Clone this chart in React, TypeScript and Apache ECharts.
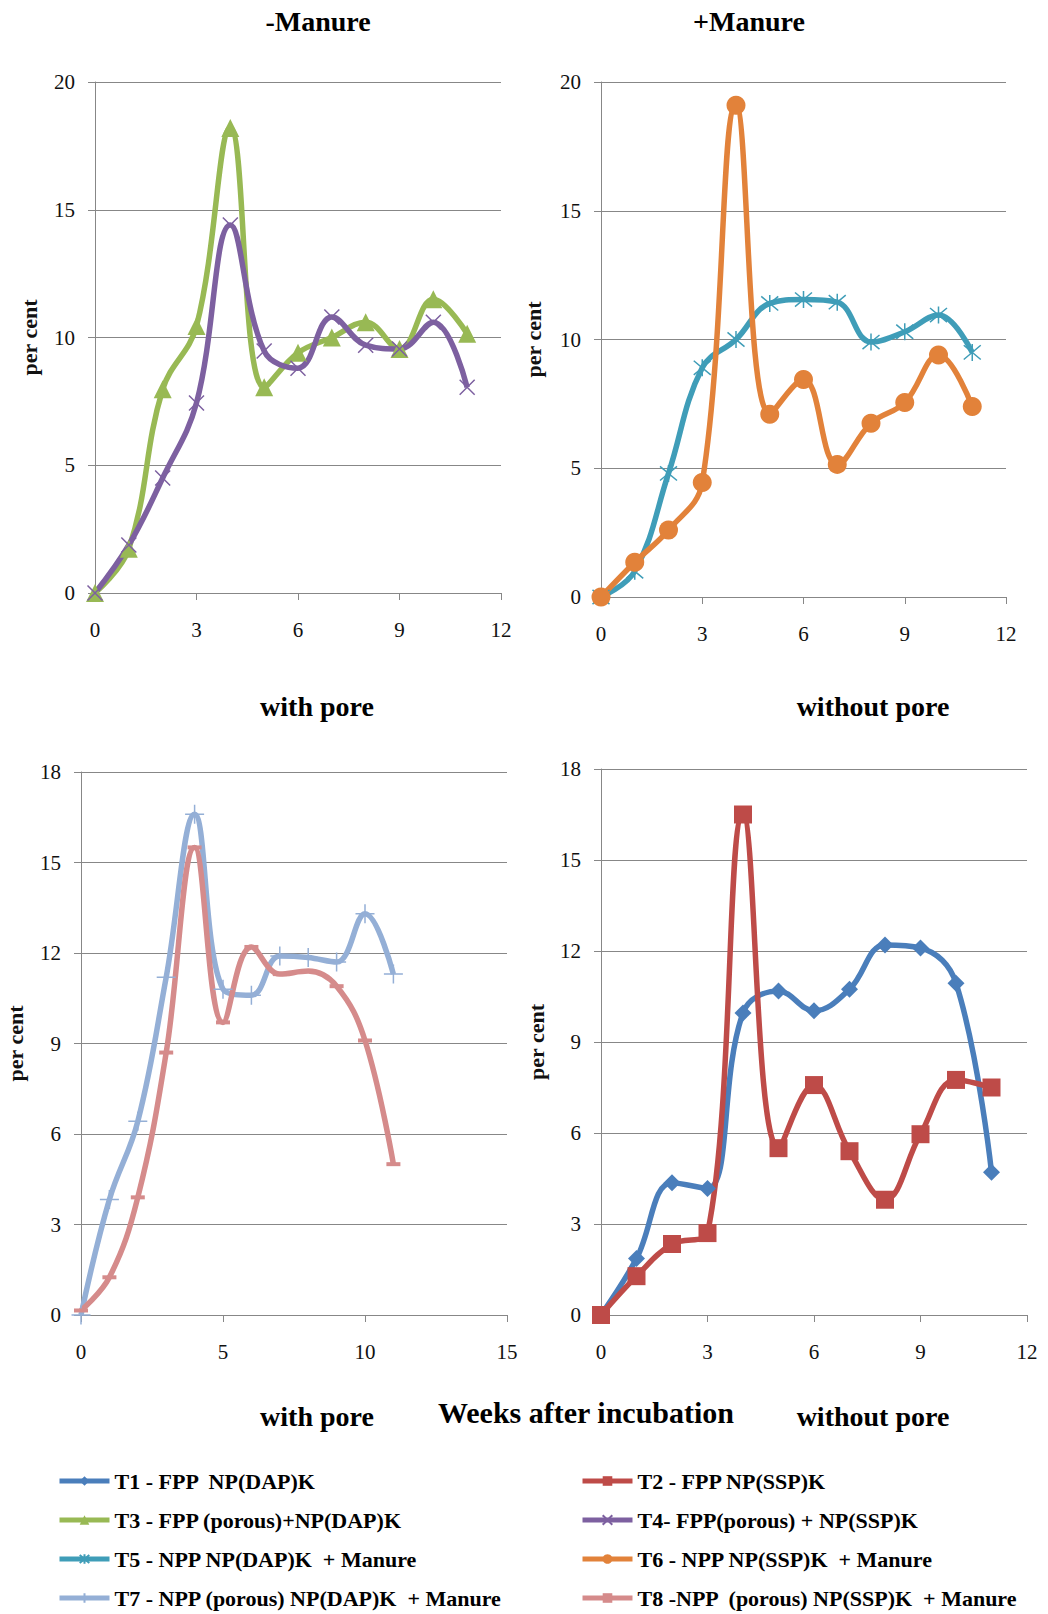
import * as echarts from 'echarts';
import { useEffect, useRef } from 'react';

// weeks after incubation
const weeks = [0, 1, 2, 3, 4, 5, 6, 7, 8, 9, 10, 11];

// -Manure panel
const t3 = [0, 1.73, 7.97, 10.45, 18.2, 8.05, 9.4, 10.0, 10.6, 9.55, 11.5, 10.15];
const t4 = [0, 1.88, 4.5, 7.44, 14.4, 9.47, 8.8, 10.8, 9.7, 9.55, 10.6, 8.05];
// +Manure panel
const t5 = [0, 1.0, 4.8, 8.9, 10.0, 11.4, 11.55, 11.45, 9.9, 10.3, 10.95, 9.5];
const t6 = [0, 1.35, 2.6, 4.45, 19.1, 7.1, 8.45, 5.15, 6.75, 7.55, 9.4, 7.4];
// with pore panel
const t7 = [0, 3.83, 6.42, 11.2, 16.6, 10.8, 10.6, 11.9, 11.85, 11.7, 13.3, 11.3];
const t8 = [0.15, 1.25, 3.9, 8.7, 15.5, 9.7, 12.2, 11.3, 11.4, 10.9, 9.1, 5.0];
// without pore panel
const t1 = [0, 1.86, 4.36, 4.17, 9.96, 10.68, 10.03, 10.74, 12.2, 12.1, 10.94, 4.71];
const t2 = [0, 1.28, 2.34, 2.7, 16.5, 5.5, 7.58, 5.4, 3.8, 5.96, 7.75, 7.5];

const names = [
    'T1 - FPP  NP(DAP)K',
    'T2 - FPP NP(SSP)K',
    'T3 - FPP (porous)+NP(DAP)K',
    'T4- FPP(porous) + NP(SSP)K',
    'T5 - NPP NP(DAP)K  + Manure',
    'T6 - NPP NP(SSP)K  + Manure',
    'T7 - NPP (porous) NP(DAP)K  + Manure',
    'T8 -NPP  (porous) NP(SSP)K  + Manure',
];

const serif = '"Liberation Serif", "Times New Roman", serif';
const gridColor = '#878787';

const pairs = (ys: number[]) => weeks.map((w, i) => [w, ys[i]]);

const App = () => {
    const chartRef = useRef(null);

    useEffect(() => {
        document.body.style.margin = '0';
        const chart = echarts.init(chartRef.current, null, { renderer: 'svg' });

        const grids = [
            { left: 95, top: 82, width: 406, height: 511 },
            { left: 601, top: 82, width: 405, height: 515 },
            { left: 81, top: 772, width: 426, height: 543 },
            { left: 601, top: 769, width: 426, height: 546 },
        ];

        const xAxisOf = (i: number, max: number, interval: number) => ({
            type: 'value',
            gridIndex: i,
            min: 0,
            max,
            interval,
            axisLine: { show: true, lineStyle: { color: gridColor } },
            axisTick: { show: true, length: 7, lineStyle: { color: gridColor } },
            splitLine: { show: false },
            axisLabel: { color: '#111', fontFamily: serif, fontSize: 21, margin: 26 },
        });

        const yAxisOf = (i: number, max: number, interval: number, gap: number) => ({
            type: 'value',
            gridIndex: i,
            min: 0,
            max,
            interval,
            name: 'per cent',
            nameLocation: 'middle',
            nameGap: gap,
            nameTextStyle: { color: '#111', fontFamily: serif, fontWeight: 'bold', fontSize: 22 },
            axisLine: { show: true, lineStyle: { color: gridColor } },
            axisTick: { show: true, length: 7, lineStyle: { color: gridColor } },
            splitLine: { show: true, lineStyle: { color: gridColor, width: 1 } },
            axisLabel: { color: '#111', fontFamily: serif, fontSize: 21, margin: 20 },
        });

        const line = (name: string, ys: number[], idx: number, color: string, symbol: string, size: any, stroke = 0) => ({
            name,
            type: 'line',
            xAxisIndex: idx,
            yAxisIndex: idx,
            data: pairs(ys),
            smooth: 0.4,
            symbol,
            symbolSize: size,
            showAllSymbol: true,
            lineStyle: { color, width: 5.5 },
            itemStyle: stroke ? { color, borderColor: color, borderWidth: stroke } : { color },
        });

        const cross = 'path://M0 0 L10 10 M10 0 L0 10';
        const star = 'path://M0 0 L10 10 M10 0 L0 10 M5 -1 L5 11';
        const plus = 'path://M5 0 L5 10 M0 5 L10 5';

        const title = (text: string, x: number, y: number, size = 28) => ({
            type: 'text',
            x,
            y,
            style: {
                text,
                font: `bold ${size}px ${serif}`,
                fill: '#000',
                textAlign: 'center',
                textVerticalAlign: 'middle',
                align: 'center',
                verticalAlign: 'middle',
            },
        });

        const legendBase = {
            orient: 'vertical',
            itemWidth: 50,
            itemHeight: 12,
            itemGap: 17,
            lineStyle: { width: 5 },
            textStyle: { color: '#000', fontFamily: serif, fontWeight: 'bold', fontSize: 22 },
        };

        const option = {
            animation: false,
            backgroundColor: '#fff',
            grid: grids,
            xAxis: [xAxisOf(0, 12, 3), xAxisOf(1, 12, 3), xAxisOf(2, 15, 5), xAxisOf(3, 12, 3)],
            yAxis: [yAxisOf(0, 20, 5, 55), yAxisOf(1, 20, 5, 57), yAxisOf(2, 18, 3, 55), yAxisOf(3, 18, 3, 54)],
            legend: [
                { ...legendBase, left: 52, top: 1465, data: [names[0], names[2], names[4], names[6]] },
                { ...legendBase, left: 575, top: 1465, data: [names[1], names[3], names[5], names[7]] },
            ],
            graphic: [
                title('-Manure', 318, 21),
                title('+Manure', 749, 21),
                title('with pore', 317, 706),
                title('without pore', 873, 706),
                title('with pore', 317, 1416),
                title('Weeks after incubation', 586, 1412, 30),
                title('without pore', 873, 1416),
            ],
            series: [
                line(names[2], t3, 0, '#98B954', 'triangle', 18),
                line(names[3], t4, 0, '#7D60A0', cross, 15, 1.5),
                line(names[4], t5, 1, '#3F9DB8', star, 17, 1.5),
                line(names[5], t6, 1, '#E2823A', 'circle', 19),
                line(names[6], t7, 2, '#94AFD6', plus, 19, 1.5),
                line(names[7], t8, 2, '#D58B8B', 'rect', [14, 4]),
                line(names[0], t1, 3, '#4A7EBB', 'diamond', 17),
                line(names[1], t2, 3, '#BE4B48', 'rect', 18),
            ],
        };

        chart.setOption(option);

        return () => {
            chart.dispose();
        };
    }, []);

    return <div ref={chartRef} style={{ width: '1048px', height: '1614px' }} />;
};

export default App;
